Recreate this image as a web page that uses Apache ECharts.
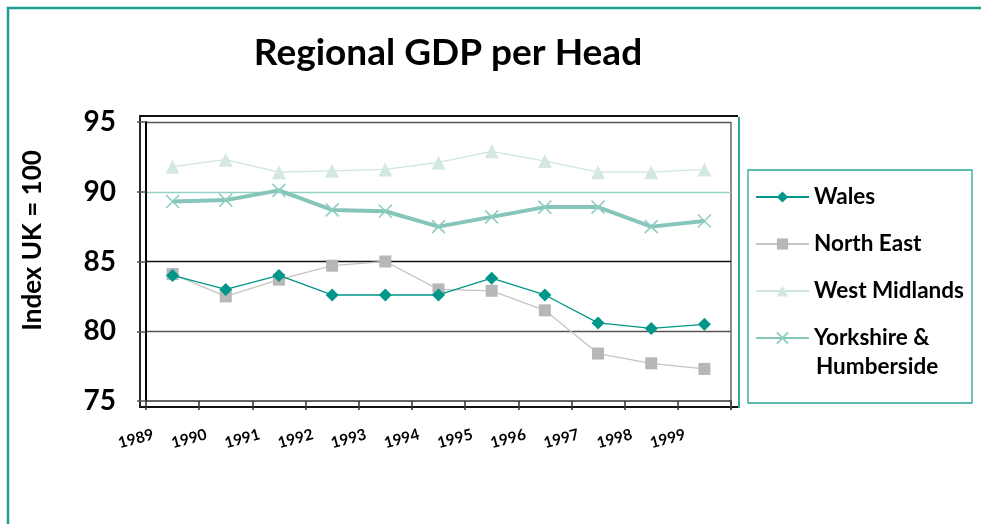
<!DOCTYPE html>
<html>
<head>
<meta charset="utf-8">
<script src="https://cdn.jsdelivr.net/npm/echarts@6/dist/echarts.min.js"></script>
<style>
  html, body { margin: 0; padding: 0; background: #fff; }
  #main { width: 981px; height: 524px; }
</style>
</head>
<body>
<div id="main"></div>
<script>
// data
var years = ["1989", "1990", "1991", "1992", "1993", "1994", "1995", "1996", "1997", "1998", "1999"];
var wales = [84.0, 83.0, 84.0, 82.6, 82.6, 82.6, 83.8, 82.6, 80.6, 80.2, 80.5];
var northEast = [84.1, 82.5, 83.7, 84.7, 85.0, 83.0, 82.9, 81.5, 78.4, 77.7, 77.3];
var westMidlands = [91.8, 92.3, 91.4, 91.5, 91.6, 92.1, 92.9, 92.2, 91.4, 91.4, 91.6];
var yorkshire = [89.3, 89.4, 90.1, 88.7, 88.6, 87.5, 88.2, 88.9, 88.9, 87.5, 87.9];

var FONT = "Lato";
var TEAL = "#1a9c8e";

var myChart = echarts.init(document.getElementById("main"));

var crossPath = "path://M0,0L10,10M10,0L0,10";

var option = {
  animation: false,
  backgroundColor: "#fff",
  title: {
    text: "Regional GDP per Head",
    left: 443,
    top: 30,
    textAlign: "center",
    textStyle: { fontFamily: FONT, fontWeight: "bold", fontSize: 37, color: "#000" }
  },
  grid: { left: 146, top: 122, right: 250, bottom: 123 },
  legend: {
    orient: "vertical",
    left: 755,
    top: 185,
    padding: 0,
    itemWidth: 53,
    itemHeight: 14,
    itemGap: 23,
    textStyle: { fontFamily: FONT, fontWeight: "bold", fontSize: 22.5, lineHeight: 24, color: "#000" },
    formatter: function (name) {
      return name === "Yorkshire & Humberside" ? "Yorkshire &" : name;
    },
    data: ["Wales", "North East", "West Midlands", "Yorkshire & Humberside"]
  },
  xAxis: {
    type: "category",
    data: years,
    boundaryGap: true,
    axisLine: { show: true, lineStyle: { color: "#333", width: 1.5 } },
    axisTick: { show: true, length: 9, lineStyle: { color: "#333", width: 1.5 } },
    axisLabel: {
      rotate: 15,
      margin: 28,
      padding: [0, 20, 0, 0],
      fontFamily: FONT,
      fontWeight: "bold",
      fontSize: 15.5,
      color: "#000"
    },
    splitLine: { show: false }
  },
  yAxis: {
    type: "value",
    min: 75,
    max: 95,
    interval: 5,
    name: "Index UK = 100",
    nameLocation: "middle",
    nameGap: 100,
    nameTextStyle: { fontFamily: FONT, fontWeight: "bold", fontSize: 26, color: "#000", padding: [0, 0, 0, 42] },
    axisLine: { show: true, lineStyle: { color: "#000", width: 2 } },
    axisTick: { show: true, length: 9, lineStyle: { color: "#555", width: 1.5 } },
    axisLabel: { margin: 30, padding: [6, 0, 0, 0], fontFamily: FONT, fontWeight: "bold", fontSize: 28, color: "#000" },
    splitLine: {
      show: true,
      lineStyle: { color: ["transparent", "#555", "#111", "#95d2c7", "#555"], width: 1.3 }
    }
  },
  series: [
    {
      name: "Wales",
      type: "line",
      data: wales,
      symbol: "diamond",
      symbolSize: 13,
      z: 5,
      lineStyle: { color: "#00968a", width: 1.3 },
      itemStyle: { color: "#00968a" }
    },
    {
      name: "North East",
      type: "line",
      data: northEast,
      symbol: "rect",
      symbolSize: 12,
      z: 4,
      lineStyle: { color: "#c4c4c4", width: 1.3 },
      itemStyle: { color: "#b7b7b7" }
    },
    {
      name: "West Midlands",
      type: "line",
      data: westMidlands,
      symbol: "triangle",
      symbolSize: 14,
      z: 3,
      lineStyle: { color: "#cfe6e0", width: 1.3 },
      itemStyle: { color: "#d3e8e2" }
    },
    {
      name: "Yorkshire & Humberside",
      type: "line",
      data: yorkshire,
      symbol: crossPath,
      symbolSize: 13,
      z: 4,
      lineStyle: { color: "#86c5b9", width: 4 },
      itemStyle: { color: "#8ecdc2", borderColor: "#8ecdc2", borderWidth: 1.5 }
    }
  ],
  graphic: [
    // outer teal frame
    {
      type: "rect",
      shape: { x: 8, y: 8, width: 1000, height: 540 },
      style: { fill: null, stroke: TEAL, lineWidth: 2.5 },
      silent: true
    },
    // outer frame of the plot area
    {
      type: "polyline",
      shape: { points: [[738, 116], [140, 116], [140, 407], [738, 407]] },
      style: { fill: null, stroke: "#111", lineWidth: 1.8 },
      silent: true
    },
    {
      type: "line",
      shape: { x1: 739, y1: 117, x2: 739, y2: 408 },
      style: { stroke: TEAL, lineWidth: 1.8 },
      silent: true
    },
    {
      type: "line",
      shape: { x1: 731, y1: 122, x2: 731, y2: 410 },
      style: { stroke: "#666", lineWidth: 1.5 },
      silent: true
    },
    // legend box
    {
      type: "rect",
      shape: { x: 748, y: 170, width: 224, height: 233 },
      style: { fill: null, stroke: "#2aa597", lineWidth: 1.3 },
      silent: true
    },
    {
      type: "text",
      left: 816,
      top: 355,
      style: { text: "Humberside", fontFamily: FONT, fontWeight: "bold", fontSize: 22.5, fill: "#000" },
      silent: true
    }
  ]
};

myChart.setOption(option);
</script>
</body>
</html>
